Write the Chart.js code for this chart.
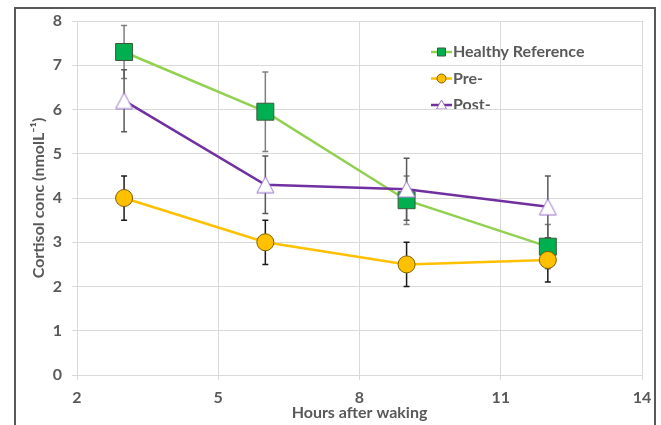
<!DOCTYPE html>
<html>
<head>
<meta charset="utf-8">
<script src="https://cdn.jsdelivr.net/npm/chart.js@4/dist/chart.umd.min.js"></script>
<style>
  html, body { margin: 0; padding: 0; background: #ffffff; }
  #wrap { position: relative; width: 661px; height: 425px; overflow: hidden; }
  canvas { display: block; }
</style>
</head>
<body>
<div id="wrap"><canvas id="chart" width="661" height="425"></canvas></div>
<script>
// Sampling times (hours after waking)
const hours = [3, 6, 9, 12];

// Mean cortisol concentration (nmol/L) per group
const healthy = [7.3, 5.95, 3.95, 2.9];
const pre = [4.0, 3.0, 2.5, 2.6];
const post = [6.2, 4.3, 4.2, 3.8];

// Error bar half-widths (nmol/L)
const healthyErr = [0.6, 0.9, 0.55, 0.5];
const preErr = [0.5, 0.5, 0.5, 0.5];
const postErr = [0.7, 0.65, 0.7, 0.7];

// Axis ticks
const xTicks = [2, 5, 8, 11, 14];
const yTicks = [0, 1, 2, 3, 4, 5, 6, 7, 8];

const seriesNames = ['Healthy Reference', 'Pre-', 'Post-'];

const FONT = 'Lato, "Open Sans", sans-serif';
const TEXT = '#595959';
const GRID = '#d9d9d9';
const FS = 16;

// Hollow triangle marker, centred on its bounding box
function triangleMarker(w, h, fill, stroke) {
  const c = document.createElement('canvas');
  c.width = w + 2; c.height = h + 2;
  const g = c.getContext('2d');
  g.beginPath();
  g.moveTo(c.width / 2, 1);
  g.lineTo(c.width - 1, c.height - 1);
  g.lineTo(1, c.height - 1);
  g.closePath();
  g.fillStyle = fill; g.fill();
  g.lineWidth = 1; g.strokeStyle = stroke; g.stroke();
  return c;
}
const triBig = triangleMarker(17, 16, '#ffffff', '#9a74cc');

const toPoints = (ys) => ys.map((y, i) => ({ x: hours[i], y }));

const datasets = [
  {
    label: seriesNames[0], data: toPoints(healthy), errors: healthyErr, errColor: '#7f7f7f',
    borderColor: '#92d050', backgroundColor: '#00b050', pointBorderColor: '#3d5a3a',
    pointStyle: 'rect', pointRadius: 12, pointBorderWidth: 1, borderWidth: 2.5, order: 3
  },
  {
    label: seriesNames[1], data: toPoints(pre), errors: preErr, errColor: '#1a1a1a',
    borderColor: '#ffc000', backgroundColor: '#ffc000', pointBorderColor: '#7f6000',
    pointStyle: 'circle', pointRadius: 8.5, pointBorderWidth: 1, borderWidth: 2.5, order: 2
  },
  {
    label: seriesNames[2], data: toPoints(post), errors: postErr, errColor: '#595959',
    borderColor: '#7030a0', backgroundColor: '#ffffff', pointBorderColor: '#9a74cc',
    pointStyle: triBig, pointRadius: 9, pointBorderWidth: 1, borderWidth: 2.5, order: 1
  }
];

// Outer frame of the figure
const framePlugin = {
  id: 'frame',
  beforeDraw(chart) {
    const ctx = chart.ctx;
    ctx.save();
    ctx.fillStyle = '#ffffff';
    ctx.fillRect(0, 0, chart.width, chart.height);
    ctx.strokeStyle = '#595959';
    ctx.lineWidth = 2;
    ctx.strokeRect(15, 8, 640, 500);
    ctx.restore();
  }
};

// Vertical error bars with small caps, drawn beneath the series
const errorBarPlugin = {
  id: 'errorBars',
  beforeDatasetsDraw(chart) {
    const ctx = chart.ctx;
    const xs = chart.scales.x, ys = chart.scales.y;
    ctx.save();
    chart.data.datasets.forEach((ds) => {
      ctx.strokeStyle = ds.errColor;
      ctx.lineWidth = 1.5;
      ds.data.forEach((p, i) => {
        const e = ds.errors[i];
        const px = xs.getPixelForValue(p.x);
        const top = ys.getPixelForValue(p.y + e);
        const bot = ys.getPixelForValue(p.y - e);
        ctx.beginPath();
        ctx.moveTo(px, top); ctx.lineTo(px, bot);
        ctx.moveTo(px - 3, top); ctx.lineTo(px + 3, top);
        ctx.moveTo(px - 3, bot); ctx.lineTo(px + 3, bot);
        ctx.stroke();
      });
    });
    ctx.restore();
  }
};

// Legend inside the plot, top right
const legendPlugin = {
  id: 'innerLegend',
  afterDatasetsDraw(chart) {
    const ctx = chart.ctx;
    const area = chart.chartArea;
    const x0 = 431, x1 = 452, xm = 441.5;
    const rows = [52, 78.5, 105];
    ctx.save();
    ctx.beginPath();
    ctx.rect(area.left, area.top, area.right - area.left, 109 - area.top);
    ctx.clip();
    chart.data.datasets.forEach((ds, i) => {
      const y = rows[i];
      ctx.strokeStyle = ds.borderColor;
      ctx.lineWidth = 2.5;
      ctx.beginPath(); ctx.moveTo(x0, y); ctx.lineTo(x1, y); ctx.stroke();
      ctx.lineWidth = 1;
      ctx.fillStyle = ds.backgroundColor;
      ctx.strokeStyle = ds.pointBorderColor;
      ctx.beginPath();
      if (i === 0) {
        ctx.rect(xm - 4, y - 4, 8, 8);
      } else if (i === 1) {
        ctx.arc(xm, y, 4.5, 0, Math.PI * 2);
      } else {
        ctx.moveTo(xm, y - 5); ctx.lineTo(xm + 5, y + 4); ctx.lineTo(xm - 5, y + 4); ctx.closePath();
      }
      ctx.fill(); ctx.stroke();
      ctx.fillStyle = TEXT;
      ctx.font = 'bold ' + FS + 'px ' + FONT;
      ctx.textBaseline = 'middle';
      ctx.textAlign = 'left';
      ctx.fillText(ds.label, x1 + 1, y);
    });
    ctx.restore();
  }
};

new Chart(document.getElementById('chart'), {
  type: 'line',
  data: { datasets },
  plugins: [framePlugin, errorBarPlugin, legendPlugin],
  options: {
    responsive: false,
    animation: false,
    devicePixelRatio: 1,
    layout: { padding: { left: 0, top: 21, right: 19, bottom: 0 } },
    plugins: { legend: { display: false }, tooltip: { enabled: false } },
    elements: { line: { tension: 0 } },
    scales: {
      x: {
        type: 'linear', min: 2, max: 14,
        afterBuildTicks: (s) => { s.ticks = xTicks.map(v => ({ value: v })); },
        afterFit: (s) => { s.height = 50; },
        grid: { color: GRID, lineWidth: 1, tickLength: 5, tickColor: GRID },
        border: { color: GRID, width: 1 },
        ticks: { color: TEXT, font: { family: FONT, size: FS, weight: 'bold' }, padding: 8, maxRotation: 0 },
        title: { display: true, text: 'Hours after waking', color: TEXT,
                 font: { family: FONT, size: FS, weight: 'bold' }, padding: { top: 0, bottom: 2.5 } }
      },
      y: {
        type: 'linear', min: 0, max: 8,
        afterBuildTicks: (s) => { s.ticks = yTicks.map(v => ({ value: v })); },
        afterFit: (s) => { s.width = 77; },
        grid: { color: GRID, lineWidth: 1, tickLength: 5, tickColor: GRID },
        border: { color: GRID, width: 1 },
        ticks: { color: TEXT, font: { family: FONT, size: FS, weight: 'bold' }, padding: 10 },
        title: { display: true, text: 'Cortisol conc (nmolL⁻¹)', color: TEXT,
                 font: { family: FONT, size: FS, weight: 'bold' }, padding: { top: 29.5, bottom: 0 } }
      }
    }
  }
});
</script>
</body>
</html>
